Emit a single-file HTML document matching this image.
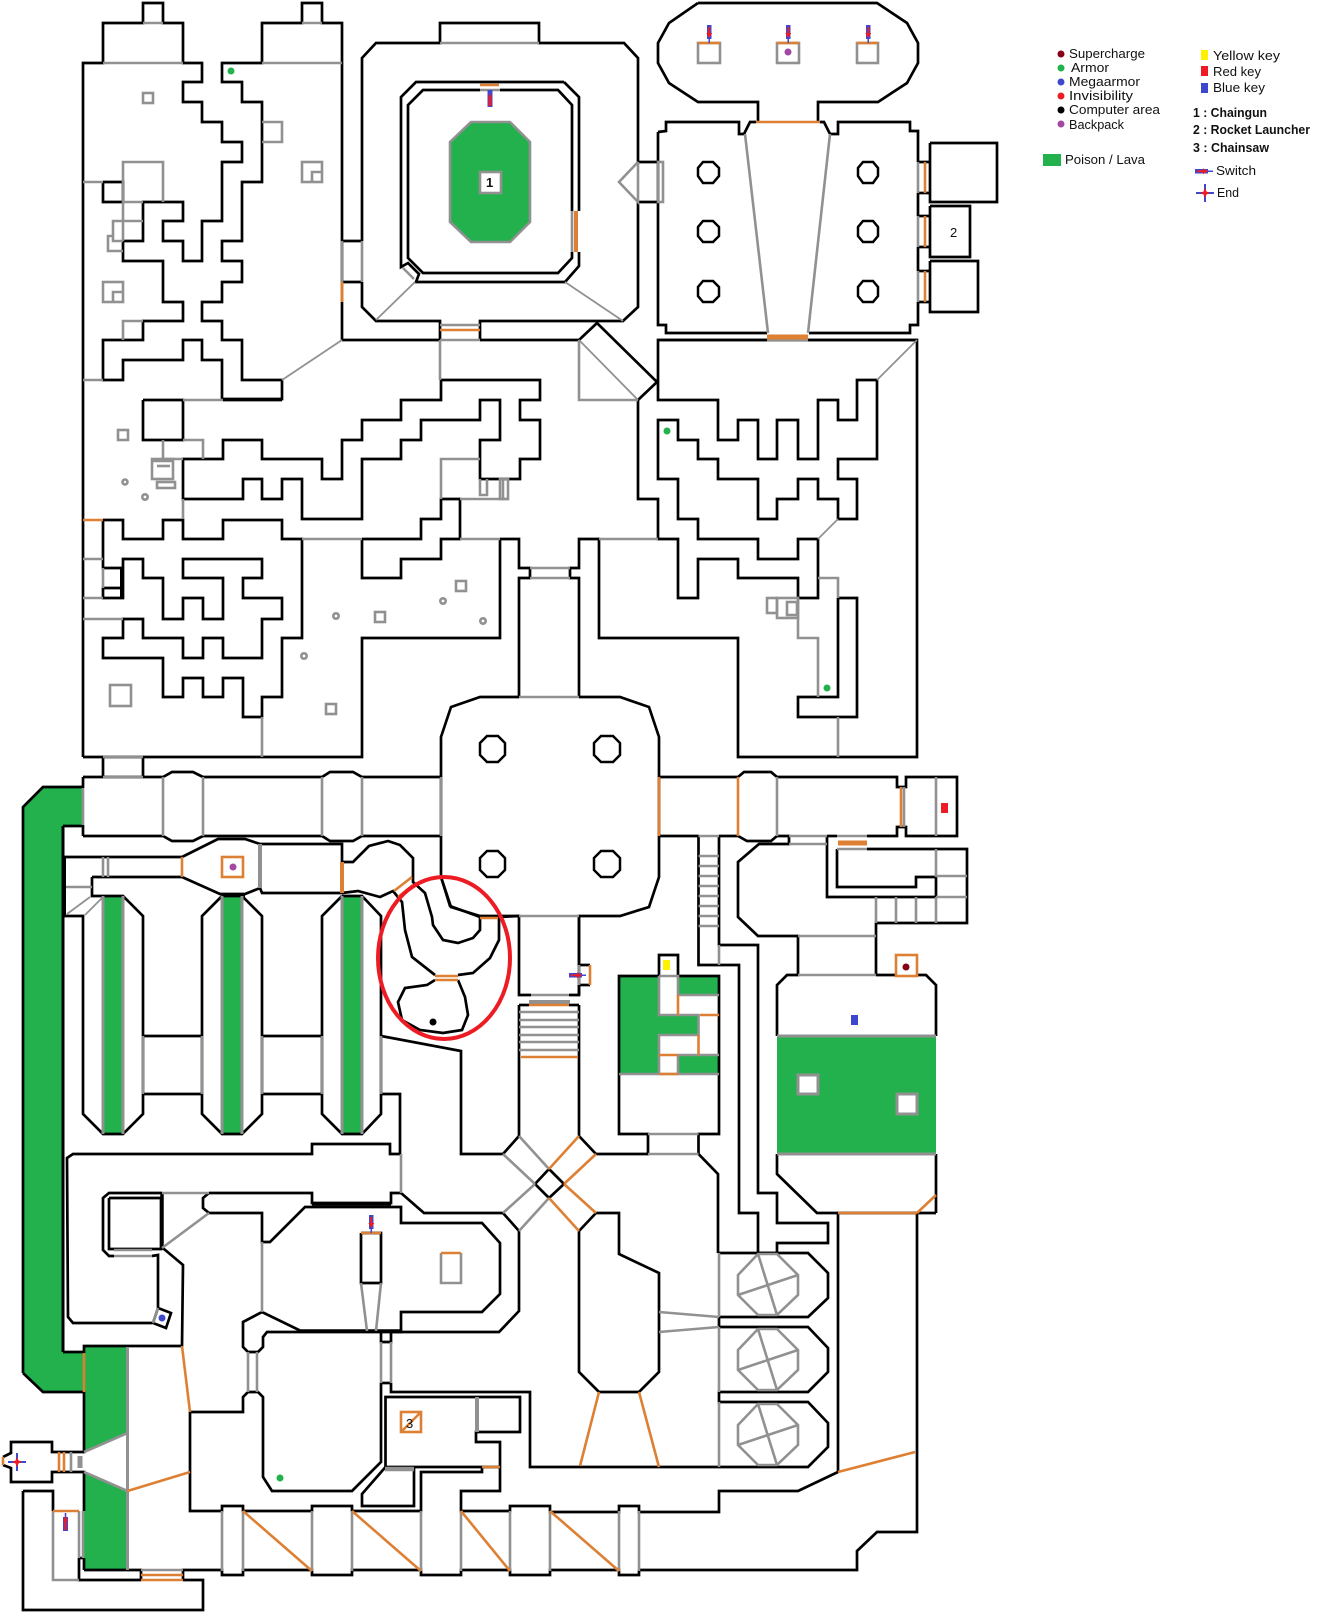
<!DOCTYPE html>
<html><head><meta charset="utf-8"><title>Map</title>
<style>
html,body{margin:0;padding:0;background:#fff}
svg{display:block}
.k{fill:none;stroke:#000;stroke-width:2.7}
.g{fill:none;stroke:#919191;stroke-width:2.6}
.o{fill:none;stroke:#dd8033;stroke-width:2.6}
.p{fill:#fff;stroke:#000;stroke-width:2.5}
text{font-family:"Liberation Sans",sans-serif;font-size:13px;fill:#111}
.b{font-weight:bold}
</style></head><body>
<svg width="1320" height="1612" viewBox="0 0 1320 1612" xmlns="http://www.w3.org/2000/svg">
<!-- green fills -->
<g fill="#22b14c" stroke="none">
<polygon points="23,807 43,787 83,787 83,826 63,826 63,1352 84,1352 84,1392 43,1392 23,1373"/>
<rect x="103" y="896" width="20" height="238"/><rect x="222" y="896" width="20" height="238"/><rect x="342" y="896" width="20" height="238"/>
<polygon points="84,1347 127.5,1347 127.5,1433 84,1452"/>
<polygon points="84,1472 127.5,1491 127.5,1570 84,1570"/>
<rect x="777" y="1036" width="159" height="118"/>
<rect x="619" y="976" width="100" height="98"/>
</g>
<polygon points="471,122 510,122 530,142 530,222 510,242 471,242 450,222 450,142" fill="#22b14c" stroke="#919191" stroke-width="2.6"/>
<g fill="#fff" stroke="none">
<rect x="659" y="976" width="19" height="39"/><rect x="678" y="995" width="41" height="20"/><rect x="698.5" y="1015" width="20.5" height="40"/><rect x="659" y="1035" width="40" height="20"/><rect x="659" y="1055" width="19" height="19"/>
</g>

<!-- black walls -->
<g class="k">
<polyline points="83,757 83,63 103,63 103,23 143,23 143,3 163,3 163,23 183,23 183,63 202,63 202,82 183,82 183,102 202,102 202,122 222,122 222,142 242,142 242,162 222,162 222,221 202,221 202,261 183,261 183,241 163,241 163,221 183,221 183,202 143,202 143,241 123,241 123,261 163,261 163,302 183,302 183,321 143,321 143,340 103,340 103,380 123,380 123,360 183,360 183,340 202,340 202,360 222,360 222,380"/>
<polyline points="222,380 222,399 282,399 282,380 242,380 242,340 222,340 222,321 202,321 202,302 222,302 222,282 242,282 242,261 222,261 222,241 242,241 242,182 262,182 262,102 242,102 242,82 222,82 222,63 262,63 262,23 302,23 302,3 322,3 322,23 342,23 342,340"/>
<polyline points="103,182 123,182 123,202 103,202 103,182"/>
<polyline points="342,241 362,241"/><polyline points="342,282 362,282"/>
<polyline points="342,340 440,340"/><polyline points="480,340 579,340"/>
<!-- big square room -->
<polyline points="362,241 362,58 376,43 440,43 440,23 539,23 539,43 624,43 638,58 638,162"/>
<polyline points="362,282 362,307 376,321 440,321 440,340"/>
<polyline points="480,340 480,321 623,321 638,307 638,202"/>
<polyline points="638,162 658,162"/><polyline points="638,202 658,202"/>
<polyline points="564,82 579,97 579,211"/><polyline points="579,252 579,266 565,282 416,282 419,274 408,263 401,267 401,97 416,82 564,82"/>
<polyline points="480,90 423,90 408,105 408,258 423,273 558,273 572,258 572,252"/><polyline points="500,90 558,90 572,105 572,211"/>
<!-- central north row -->
<polyline points="441,380 540,380 540,400 520,400 520,420 540,420 540,459 520,459 520,479 480,479 480,440 500,440 500,400 480,400 480,420 421,420 421,440 401,440 401,459 362,459 362,519 302,519 302,479 282,479 282,499 262,499 262,479 243,479 243,499 183,499 183,459 223,459 223,440 262,440 262,459 322,459 322,479 342,479 342,440 362,440 362,420 401,420 401,400 441,400 441,380"/>
<polyline points="143,400 183,400 183,440 143,440 143,400"/>
<polyline points="223,400 282,400"/>
<polyline points="103,520 123,520 123,539 163,539 163,520 183,520 183,539 223,539 223,520 282,520 282,539 302,539 302,638 282,638 282,697 262,697 262,717 243,717 243,678 223,678 223,697 203,697 203,678 183,678 183,697 163,697 163,658 103,658 103,638 123,638 123,619 143,619 143,638 183,638 183,658 203,658 203,638 223,638 223,658 262,658 262,619 282,619 282,598 243,598 243,578 262,578 262,559 183,559 183,578 223,578 223,619 203,619 203,598 183,598 183,619 163,619 163,578 143,578 143,559 123,559 123,598 103,598 103,588 122,588 122,568 103,568 103,520"/>
<line x1="122" y1="568" x2="122" y2="598" stroke-width="4"/>
<polyline points="83,757 362,757 362,638 500,638 500,539"/>
<polyline points="362,539 362,578 401,578 401,559 441,559 441,539 460,539 460,499 441,499 441,519 421,519 421,539 362,539"/>
<polyline points="500,539 519,539 519,568 530,568 530,578 519,578 519,697"/>
<polyline points="579,697 579,578 570,578 570,568 579,568 579,539 599,539 599,638 738,638 738,757 917,757 917,340 658,340 658,400 718,400 718,440 738,440 738,420 758,420 758,459 777,459 777,420 798,420 798,459 818,459 818,400 838,400 838,420 857,420 857,380 877,380 877,459 838,459 838,479 857,479 857,519 838,519 838,499 818,499 818,479 798,479 798,499 777,499 777,519 758,519 758,479 718,479 718,459 698,459 698,440 678,440 678,420 658,420 658,479 678,479 678,519 698,519 698,539 758,539 758,559 798,559 798,539 818,539 818,598 798,598 798,578 738,578 738,559 698,559 698,598 678,598 678,539 658,539 658,499 638,499 638,400 657,382 597,323 579,340"/>
<polyline points="838,598 857,598 857,717 798,717 798,697 838,697 838,598"/>
<!-- top-right temple -->
<polyline points="698,3 877,3 907,23 918,43 918,63 907,83 878,102 818,102 818,122"/>
<polyline points="758,122 758,102 698,102 669,83 658,63 658,43 669,23 698,3"/>
<polyline points="658,132 666,131 666,122 739,122 739,134 744,134 750,122 756,122"/>
<polyline points="820,122 824,122 830,134 838,134 838,122 910,122 910,131 918,131 918,162"/>
<polyline points="918,193 918,216"/><polyline points="918,247 918,271"/>
<polyline points="918,302 918,325 910,325 910,333 809,333"/>
<polyline points="767,333 666,333 666,325 658,325 658,132"/>
<polyline points="930,143 997,143 997,202 930,202 930,143"/>
<polyline points="930,206 970,206 970,257 930,257 930,206"/>
<polyline points="930,261 978,261 978,312 930,312 930,261"/>
<polyline points="918,162 930,162"/><polyline points="918,193 930,193"/><polyline points="918,216 930,216"/><polyline points="918,247 930,247"/><polyline points="918,271 930,271"/><polyline points="918,302 930,302"/>
<!-- north corridor -->
<polyline points="83,777 163,777 172,772 193,772 203,777 322,777 330,772 353,772 362,777 441,777"/>
<polyline points="83,836 163,836 172,841 193,841 203,836 322,836 330,841 353,841 362,836 441,836"/>
<line x1="83" y1="777" x2="83" y2="788"/><line x1="83" y1="825" x2="83" y2="836"/>
<polyline points="103,757 103,777"/><polyline points="143,757 143,777"/>
<!-- central room -->
<polyline points="519,697 480,697 451,707 441,737 441,877 451,907 480,916 519,916 519,995 531,995"/>
<polyline points="579,697 620,697 649,707 659,737 659,877 649,907 620,916 579,916 579,995 569,995"/>
<polyline points="519,1005 529,1005"/><polyline points="569,1005 579,1005"/>
<polyline points="519,1005 519,1136 503,1154 461,1154 461,1051 381,1036"/>
<polyline points="579,1005 579,1136 596,1154 648,1154 648,1134 619,1134 619,976 659,976 659,955 678,955 678,976 719,976 719,1134 698.5,1134 698.5,1154 718,1174 718,1253"/>
<!-- cross -->
<polyline points="549,1169 564,1184 549,1198 535,1184 549,1169"/>
<polyline points="503,1213 519,1231 519,1311 499,1332 391,1332"/>
<polyline points="596,1213 579,1231 579,1372 599,1392 639,1392 659,1372 659,1273 619,1254 619,1213 596,1213"/>
<!-- east corridor -->
<polyline points="659,777 738,777 744,772 771,772 777,777 897,777 897,787 906,787 906,777 957,777 957,836 906,836 906,827 897,827 897,836 867,836"/>
<polyline points="659,836 698.5,836"/><polyline points="719,836 738,836 747,841 771,841 777,836 789,836 789,844 759,844 738,862 738,917 758,936 798,936 798,975 787,975 777,985 777,1036"/>
<polyline points="777,1154 777,1174 817,1213 917,1213"/>
<polyline points="936,1213 917,1213 917,1532 877,1532 857,1551 857,1570 639,1570"/>
<polyline points="876,936 876,923 967,923 967,849 867,849"/><polyline points="876,936 876,975"/>
<polyline points="827,836 827,897 936,897 936,877 916,877 916,887 837,887 837,849"/><line x1="827" y1="836" x2="837" y2="836"/>
<polyline points="876,975 896,975"/><polyline points="917,975 926,975 936,985 936,1036"/><polyline points="936,1154 936,1213"/>
<polyline points="698.5,836 698.5,965 739,965 739,1213 758,1213 758,1253 777,1253 777,1243 828,1243 828,1223 777,1223 777,1193 758,1193 758,945 719,945 719,836"/>
<polyline points="579,965 590,965"/><polyline points="579,985 590,985"/><line x1="579" y1="916" x2="579" y2="965"/><line x1="579" y1="985" x2="579" y2="995"/>
<!-- SE rooms -->
<polyline points="718,1253 808,1253 828,1273 828,1298 808,1317 719,1317 719,1327 808,1327 828,1348 828,1372 808,1392 719,1392 719,1402 808,1402 828,1423 828,1447 808,1467 530,1467 530,1392 391,1392 391,1383"/>
<polyline points="838,1213 838,1472 798,1491 719,1491 719,1512 639,1512 639,1506 619,1506 619,1512 550,1512 550,1506 510,1506 510,1511 461,1511 461,1491 500,1491 500,1442 476,1442 476,1432 520,1432 520,1397 385.5,1397 385.5,1467 482,1467 482,1472 421,1472 421,1511 352,1511 352,1506 312,1506 312,1511 243,1511 243,1506 222,1506 222,1511 190,1511 190,1412 243,1412 243,1397 248,1392 258,1392 263,1397 263,1477 272,1491 352,1491 381,1462 381,1383"/>
<polyline points="385.5,1467 362,1494 362,1506 414,1506 414,1467"/>
<polyline points="84,1570 141,1570 141,1580"/><polyline points="183,1580 183,1570 222,1570 222,1575 243,1575 243,1570 312,1570 312,1575 352,1575 352,1570 421,1570 421,1575 461,1575 461,1570 510,1570 510,1575 550,1575 550,1570 619,1570 619,1575 639,1575 639,1570"/>
<!-- west maze / pools -->
<polyline points="63,826 83,826"/>
<line x1="63" y1="826" x2="63" y2="1352" stroke-width="3"/>
<line x1="64" y1="857" x2="64" y2="916" stroke-width="4"/>
<polyline points="23,1373 23,807 43,787 83,787"/>
<polyline points="23,1373 43,1392 84,1392 84,1452 52,1452 52,1442 11,1442 11,1453 3,1457"/>
<polyline points="63,1352 84,1352 84,1346 182,1346 183,1265 164,1249 162,1248"/>
<polyline points="3,1465 11,1468 11,1482 52,1482 52,1472 84,1472 84,1511"/>
<polyline points="84,1558 84,1570"/><polyline points="79,1558 84,1558"/>
<polyline points="23,1491 53,1491 53,1511"/><polyline points="23,1491 23,1610 203,1610 203,1580 183,1580"/><polyline points="141,1580 79,1580 79,1558"/>
<polyline points="63,857 182,857 218,839 245,839 260,844 342,844 342,862 353,862 369,846 388,841 400,845 413,858 413,882 425,893 432,917 433,925 443,940 458,943 473,938 480,930 480,917 450,906 441,877"/>
<polyline points="92,877 182,877 220,894 245,894 260,888 262,893 342,893 358,891 380,897 393,891 402,902 405,930 412,957 435,975"/>
<polyline points="92,877 92,896 103,896"/>
<polyline points="63,916 83,916 83,1114 103,1134 123,1134 143,1114 143,916 123,896 103,896"/>
<polyline points="222,896 202,916 202,1114 222,1134 242,1134 262,1114 262,916 242,896 222,896"/>
<polyline points="342,896 322,916 322,1114 342,1134 362,1134 381,1114 381,916 362,896 342,896"/>
<line x1="222" y1="895" x2="245" y2="895" stroke-width="4"/>
<polyline points="143,1036 202,1036"/><polyline points="143,1094 202,1094"/><polyline points="262,1036 322,1036"/><polyline points="262,1094 322,1094"/>
<polyline points="381,1094 400,1094 400,1154 390,1154 390,1144 312,1144 312,1154 73,1154 67,1158 68,1317 73,1323 152,1323"/>
<polyline points="458,975 473,973 490,958 499,940 499,917 519,916"/>
<polyline points="435,980 427,985 405,988 398,1002 402,1020 420,1030 443,1033 462,1030 468,1015 465,997 458,980"/>
<!-- SW hall -->
<polyline points="162,1193 109,1193 103,1198 103,1250 109,1256 114,1256"/>
<polyline points="109,1198 161,1198 161,1249 109,1249 109,1198"/>
<line x1="162" y1="1193" x2="162" y2="1249" stroke-width="3.5"/>
<polyline points="152,1256 158,1255 158,1308 171,1313 166,1328 153,1323 158,1308"/>
<polyline points="209,1193 312,1193 312,1203 391,1203 391,1193 401,1193 424,1213 503,1213"/>
<line x1="312" y1="1204" x2="391" y2="1204" stroke-width="3.5"/>
<polyline points="209,1193 203,1198 203,1208 209,1213 262,1213 262,1242 270,1242 305,1207 401,1207 401,1223 482,1223 500,1243 500,1294 482,1312 401,1312 401,1332 301,1331 262,1312 243,1322 243,1347 248,1352 258,1352 263,1347 263,1337 267,1332 391,1332"/>
<line x1="301" y1="1331" x2="401" y2="1331" stroke-width="3.5"/>
<polyline points="381,1332 381,1342 391,1342 391,1332"/>
<polyline points="391,1383 381,1383"/>
<polyline points="361,1233 381,1233 381,1283 361,1283 361,1233"/>
<polyline points="482,1467 500,1467"/>
</g>
<!-- pillars -->
<g class="p">
<polygon points="703,162 713,162 719,168 719,176 713,183 703,183 698,176 698,168"/>
<polygon points="703,221 713,221 719,227 719,236 713,242 703,242 698,236 698,227"/>
<polygon points="703,281 713,281 719,287 719,296 713,302 703,302 698,296 698,287"/>
<polygon points="863,162 873,162 878,168 878,176 873,183 863,183 858,176 858,168"/>
<polygon points="863,221 873,221 878,227 878,236 873,242 863,242 858,236 858,227"/>
<polygon points="863,281 873,281 878,287 878,296 873,302 863,302 858,296 858,287"/>
<polygon points="487,736 498,736 505,743 505,755 498,762 487,762 480,755 480,743"/>
<polygon points="601,736 613,736 620,743 620,755 613,762 601,762 594,755 594,743"/>
<polygon points="487,851 498,851 505,858 505,870 498,877 487,877 480,870 480,858"/>
<polygon points="601,851 613,851 620,858 620,870 613,877 601,877 594,870 594,858"/>
</g>

<!-- gray -->
<g class="g">
<line x1="103" y1="63" x2="183" y2="63"/><line x1="143" y1="23" x2="163" y2="23"/><line x1="262" y1="63" x2="342" y2="63"/><line x1="302" y1="23" x2="322" y2="23"/>
<rect x="143" y="93" width="10" height="10"/>
<polyline points="262,122 282,122 282,142 262,142"/>
<rect x="302" y="162" width="20" height="20"/><polyline points="312,182 312,172 322,172"/>
<rect x="103" y="282" width="20" height="20"/><polyline points="113,302 113,292 123,292"/>
<polyline points="123,340 123,321 143,321"/>
<line x1="83" y1="182" x2="103" y2="182"/>
<polyline points="123,241 123,162 163,162 163,202"/><line x1="123" y1="202" x2="143" y2="202"/>
<polyline points="143,221 113,221 113,241 123,241"/><polyline points="113,236 108,236 108,251 123,251"/>
<line x1="83" y1="380" x2="103" y2="380"/>
<line x1="282" y1="380" x2="342" y2="340" stroke-width="1.8"/>
<line x1="342" y1="241" x2="342" y2="282"/><line x1="362" y1="241" x2="362" y2="282"/>
<line x1="440" y1="43" x2="539" y2="43"/>
<line x1="440" y1="325" x2="480" y2="325"/><line x1="440" y1="340" x2="480" y2="340"/>
<polyline points="440,340 440,380"/>
<line x1="480" y1="90" x2="500" y2="90"/>
<line x1="572" y1="211" x2="572" y2="252"/>
<line x1="415" y1="282" x2="376" y2="320" stroke-width="1.8"/><line x1="565" y1="282" x2="623" y2="321" stroke-width="1.8"/>
<line x1="403" y1="268" x2="414" y2="279"/>
<polyline points="638,162 619,182 638,202 638,162"/>
<rect x="658" y="162" width="5" height="40"/>
<polyline points="579,340 579,400 638,400"/><line x1="579" y1="340" x2="638" y2="400" stroke-width="1.8"/>
<line x1="745" y1="134" x2="768" y2="333"/><line x1="830" y1="134" x2="808" y2="333"/>
<line x1="767" y1="340" x2="808" y2="340"/>
<line x1="658" y1="340" x2="767" y2="340" stroke="#000"/><line x1="808" y1="340" x2="917" y2="340" stroke="#000"/>
<rect x="698" y="43" width="22" height="20"/><rect x="777" y="43" width="22" height="20"/><rect x="857" y="43" width="21" height="20"/>
<line x1="918" y1="162" x2="918" y2="193"/><line x1="918" y1="216" x2="918" y2="247"/><line x1="918" y1="271" x2="918" y2="302"/>
<line x1="877" y1="380" x2="917" y2="340" stroke-width="1.8"/><line x1="818" y1="539" x2="838" y2="519" stroke-width="1.8"/>
<polyline points="818,578 838,578 838,598"/>
<polyline points="798,598 798,638 818,638 818,697"/>
<line x1="838" y1="717" x2="838" y2="757"/>
<rect x="767" y="598" width="10" height="15"/><rect x="777" y="598" width="21" height="20"/><rect x="787" y="602" width="10" height="13"/>
<line x1="183" y1="400" x2="223" y2="400"/>
<polyline points="183,440 203,440 203,459"/><polyline points="163,440 163,459 183,459"/>
<rect x="152" y="459" width="21" height="20"/><line x1="152" y1="461" x2="173" y2="461"/><line x1="157" y1="466" x2="170" y2="466"/><rect x="157" y="482" width="18" height="6"/>
<rect x="118" y="430" width="10" height="10"/>
<circle cx="125" cy="482" r="2.5"/><circle cx="145" cy="497" r="2.7"/>
<line x1="183" y1="499" x2="183" y2="519"/>
<line x1="83" y1="559" x2="103" y2="559"/><line x1="103" y1="568" x2="103" y2="588"/><line x1="83" y1="598" x2="103" y2="598"/><line x1="83" y1="619" x2="123" y2="619"/>
<line x1="262" y1="717" x2="262" y2="757"/>
<rect x="110" y="685" width="21" height="21"/>
<line x1="302" y1="539" x2="362" y2="539"/>
<line x1="460" y1="539" x2="500" y2="539"/>
<polyline points="441,499 441,459 480,459"/><line x1="460" y1="499" x2="508" y2="499"/>
<polyline points="480,479 480,495 487,495 487,479"/>
<rect x="500" y="479" width="8" height="20"/><line x1="503" y1="479" x2="503" y2="499"/>
<rect x="375" y="612" width="10" height="10"/><rect x="456" y="581" width="10" height="10"/><rect x="326" y="704" width="10" height="10"/>
<circle cx="336" cy="616" r="2.7"/><circle cx="304" cy="656" r="2.7"/><circle cx="443" cy="601" r="2.7"/><circle cx="483" cy="621" r="2.7"/>
<line x1="530" y1="568" x2="570" y2="568"/><line x1="530" y1="578" x2="570" y2="578"/>
<line x1="519" y1="697" x2="579" y2="697"/>
<line x1="599" y1="539" x2="658" y2="539"/>
<line x1="103" y1="757" x2="143" y2="757"/><line x1="103" y1="777" x2="143" y2="777"/>
<line x1="83" y1="788" x2="83" y2="825"/>
<line x1="163" y1="777" x2="163" y2="836"/><line x1="203" y1="777" x2="203" y2="836"/><line x1="322" y1="777" x2="322" y2="836"/><line x1="362" y1="777" x2="362" y2="836"/><line x1="441" y1="777" x2="441" y2="836"/>
<line x1="103" y1="857" x2="103" y2="877"/><line x1="108" y1="857" x2="108" y2="877"/>
<line x1="66" y1="887" x2="92" y2="887"/>
<line x1="67" y1="914" x2="90" y2="897" stroke-width="1.8"/><line x1="85" y1="915" x2="103" y2="897" stroke-width="1.8"/>
<line x1="103" y1="896" x2="103" y2="1134" stroke-width="3"/><line x1="123" y1="896" x2="123" y2="1134" stroke-width="3"/>
<line x1="222" y1="896" x2="222" y2="1134" stroke-width="3"/><line x1="242" y1="896" x2="242" y2="1134" stroke-width="3"/>
<line x1="342" y1="896" x2="342" y2="1134" stroke-width="3"/><line x1="362" y1="896" x2="362" y2="1134" stroke-width="3"/>
<line x1="143" y1="1036" x2="143" y2="1094"/><line x1="202" y1="1036" x2="202" y2="1094"/><line x1="262" y1="1036" x2="262" y2="1094"/><line x1="322" y1="1036" x2="322" y2="1094"/><line x1="381" y1="1036" x2="381" y2="1094"/>
<line x1="260" y1="844" x2="260" y2="888" stroke-width="4"/>
<line x1="519" y1="916" x2="579" y2="916"/>
<line x1="531" y1="995" x2="569" y2="995"/>
<line x1="529" y1="1002" x2="570" y2="1002" stroke-width="4"/>
<line x1="519" y1="1012" x2="579" y2="1012"/><line x1="519" y1="1020" x2="579" y2="1020"/><line x1="519" y1="1027" x2="579" y2="1027"/><line x1="519" y1="1035" x2="579" y2="1035"/><line x1="519" y1="1042" x2="579" y2="1042"/><line x1="519" y1="1050" x2="579" y2="1050"/>
<line x1="579" y1="965" x2="579" y2="985"/>
<line x1="401" y1="1154" x2="401" y2="1193"/>
<line x1="519" y1="1136" x2="549" y2="1169"/><line x1="503" y1="1154" x2="535" y2="1184"/><line x1="503" y1="1213" x2="535" y2="1184"/><line x1="519" y1="1231" x2="549" y2="1198"/>
<line x1="648" y1="1134" x2="698.5" y2="1134"/><line x1="648" y1="1154" x2="698.5" y2="1154"/>
<line x1="698.5" y1="856" x2="719" y2="856"/><line x1="698.5" y1="866" x2="719" y2="866"/><line x1="698.5" y1="876" x2="719" y2="876"/><line x1="698.5" y1="886" x2="719" y2="886"/><line x1="698.5" y1="896" x2="719" y2="896"/><line x1="698.5" y1="906" x2="719" y2="906"/><line x1="698.5" y1="916" x2="719" y2="916"/><line x1="698.5" y1="926" x2="719" y2="926"/>
<line x1="698.5" y1="836" x2="719" y2="836"/><line x1="719" y1="945" x2="719" y2="965"/>
<line x1="777" y1="777" x2="777" y2="836"/><line x1="904" y1="787" x2="904" y2="827"/><line x1="936" y1="777" x2="936" y2="836"/>
<line x1="789" y1="836" x2="827" y2="836"/><line x1="789" y1="844" x2="827" y2="844"/>
<line x1="837" y1="836" x2="867" y2="836"/><line x1="837" y1="849" x2="867" y2="849"/>
<line x1="936" y1="849" x2="936" y2="877"/><line x1="936" y1="876" x2="967" y2="876"/><line x1="936" y1="897" x2="967" y2="897"/>
<line x1="876" y1="897" x2="876" y2="923"/><line x1="896" y1="897" x2="896" y2="923"/><line x1="916" y1="897" x2="916" y2="923"/><line x1="936" y1="897" x2="936" y2="923"/>
<line x1="798" y1="936" x2="876" y2="936"/><line x1="798" y1="975" x2="876" y2="975"/>
<line x1="777" y1="1036" x2="936" y2="1036" stroke-width="3"/><line x1="777" y1="1154" x2="936" y2="1154" stroke-width="3"/>
<rect x="798" y="1075" width="20" height="19" fill="#fff" stroke-width="3"/><rect x="897" y="1094" width="20" height="20" fill="#fff" stroke-width="3"/>
<!-- yellow room -->
<polyline points="659,976 659,1015 698.5,1015 698.5,1035 659,1035 659,1074"/>
<polyline points="659,976 678,976 678,995 719,995"/><line x1="678" y1="1055" x2="719" y2="1055"/><line x1="678" y1="1055" x2="678" y2="1074"/>
<line x1="619" y1="1074" x2="719" y2="1074"/>
<!-- SE gray -->
<line x1="719" y1="1253" x2="719" y2="1317"/><line x1="719" y1="1327" x2="719" y2="1392"/><line x1="719" y1="1402" x2="719" y2="1467"/>
<line x1="659" y1="1312" x2="719" y2="1317"/><line x1="659" y1="1332" x2="719" y2="1327"/>
<polygon points="758,1254 777,1254 798,1275 798,1295 777,1315 758,1315 738,1295 738,1275"/><line x1="758" y1="1254" x2="777" y2="1315"/><line x1="738" y1="1295" x2="798" y2="1275"/>
<polygon points="758,1329 777,1329 798,1350 798,1370 777,1390 758,1390 738,1370 738,1350"/><line x1="758" y1="1329" x2="777" y2="1390"/><line x1="738" y1="1370" x2="798" y2="1350"/>
<polygon points="758,1404 777,1404 798,1425 798,1445 777,1465 758,1465 738,1445 738,1425"/><line x1="758" y1="1404" x2="777" y2="1465"/><line x1="738" y1="1445" x2="798" y2="1425"/>
<!-- SW gray -->
<line x1="162" y1="1193" x2="209" y2="1193"/><line x1="162" y1="1248" x2="209" y2="1213"/>
<line x1="114" y1="1250" x2="152" y2="1250"/><line x1="114" y1="1256" x2="152" y2="1256"/>
<line x1="158" y1="1308" x2="153" y2="1323"/>
<line x1="262" y1="1242" x2="262" y2="1312"/>
<line x1="361" y1="1283" x2="367" y2="1331"/><line x1="381" y1="1283" x2="376" y2="1331"/>
<polyline points="441,1253 441,1283 461,1283 461,1253"/>
<line x1="248" y1="1352" x2="248" y2="1392"/><line x1="257" y1="1352" x2="257" y2="1392"/>
<line x1="381" y1="1342" x2="381" y2="1383"/><line x1="391" y1="1342" x2="391" y2="1383"/>
<line x1="477" y1="1397" x2="477" y2="1432" stroke-width="4"/>
<line x1="385" y1="1469" x2="414" y2="1469" stroke-width="4.5"/>
<line x1="127.5" y1="1347" x2="127.5" y2="1570" stroke-width="3"/>
<line x1="127.5" y1="1433" x2="84" y2="1452"/><line x1="127.5" y1="1491" x2="84" y2="1472"/>
<line x1="71" y1="1452" x2="71" y2="1472"/><line x1="80" y1="1456" x2="80" y2="1468" stroke-width="5"/>
<polyline points="53,1511 53,1580 79,1580"/><line x1="79" y1="1511" x2="79" y2="1558"/><line x1="83" y1="1511" x2="83" y2="1558"/>
<line x1="141" y1="1570" x2="183" y2="1570"/>
<line x1="222" y1="1511" x2="222" y2="1571"/><line x1="243" y1="1511" x2="243" y2="1571"/><line x1="312" y1="1511" x2="312" y2="1571"/><line x1="352" y1="1511" x2="352" y2="1571"/><line x1="421" y1="1511" x2="421" y2="1571"/><line x1="461" y1="1511" x2="461" y2="1571"/><line x1="510" y1="1511" x2="510" y2="1571"/><line x1="550" y1="1511" x2="550" y2="1571"/><line x1="619" y1="1511" x2="619" y2="1571"/><line x1="639" y1="1511" x2="639" y2="1571"/>
</g>
<rect x="480" y="172" width="21" height="21" fill="#fff" stroke="#919191" stroke-width="2.6"/>

<!-- orange -->
<g class="o">
<line x1="342" y1="282" x2="342" y2="302" stroke-width="3"/>
<line x1="83" y1="520" x2="103" y2="520"/>
<line x1="480" y1="85" x2="499" y2="85"/>
<line x1="576" y1="211" x2="576" y2="252" stroke-width="4"/>
<line x1="440" y1="330" x2="480" y2="330"/>
<line x1="756" y1="122" x2="820" y2="122"/>
<line x1="767" y1="337" x2="808" y2="337" stroke-width="5"/>
<line x1="698" y1="43" x2="720" y2="43"/><line x1="777" y1="43" x2="799" y2="43"/><line x1="857" y1="43" x2="878" y2="43"/>
<line x1="925" y1="162" x2="925" y2="193"/><line x1="925" y1="216" x2="925" y2="247"/><line x1="925" y1="271" x2="925" y2="302"/>
<line x1="182" y1="857" x2="182" y2="877"/>
<rect x="222" y="857" width="21" height="20"/>
<line x1="342" y1="862" x2="342" y2="893" stroke-width="4"/>
<line x1="394" y1="891" x2="412" y2="877"/><line x1="398" y1="897" x2="413" y2="885"/>
<line x1="480" y1="918" x2="498" y2="918"/>
<line x1="435" y1="976" x2="458" y2="976"/><line x1="435" y1="980" x2="458" y2="980"/>
<line x1="659" y1="777" x2="659" y2="836"/><line x1="738" y1="777" x2="738" y2="836"/>
<line x1="901" y1="787" x2="901" y2="827"/>
<line x1="838" y1="843" x2="867" y2="843" stroke-width="5"/>
<rect x="896" y="955" width="21" height="21"/>
<line x1="529" y1="1005" x2="569" y2="1005"/><line x1="521" y1="1057" x2="578" y2="1057"/>
<polyline points="590,965 590,985"/>
<line x1="678" y1="995" x2="678" y2="1015"/><line x1="700" y1="1015" x2="719" y2="1015"/><line x1="698.5" y1="1035" x2="698.5" y2="1055"/><line x1="659" y1="1055" x2="678" y2="1055"/><line x1="659" y1="1074" x2="678" y2="1074"/>
<line x1="549" y1="1169" x2="579" y2="1136"/><line x1="564" y1="1184" x2="596" y2="1154"/><line x1="564" y1="1184" x2="596" y2="1213"/><line x1="549" y1="1198" x2="579" y2="1231"/>
<line x1="838" y1="1213" x2="917" y2="1213"/><line x1="917" y1="1213" x2="936" y2="1195"/>
<line x1="838" y1="1472" x2="915" y2="1452"/>
<line x1="599" y1="1392" x2="580" y2="1466"/><line x1="639" y1="1392" x2="659" y2="1467"/>
<line x1="361" y1="1233" x2="381" y2="1233"/>
<line x1="441" y1="1253" x2="461" y2="1253"/>
<rect x="401" y="1412" width="20" height="20"/><line x1="421" y1="1412" x2="401" y2="1432"/>
<line x1="482" y1="1467" x2="500" y2="1467"/>
<line x1="182" y1="1346" x2="190" y2="1412"/><line x1="127.5" y1="1491" x2="190" y2="1472"/>
<line x1="84" y1="1353" x2="84" y2="1392"/>
<line x1="3" y1="1457" x2="3" y2="1465"/><line x1="59" y1="1452" x2="59" y2="1472"/><line x1="64" y1="1452" x2="64" y2="1472"/>
<line x1="53" y1="1511" x2="79" y2="1511"/>
<line x1="141" y1="1575" x2="183" y2="1575"/><line x1="141" y1="1580" x2="183" y2="1580"/>
<line x1="243" y1="1511" x2="312" y2="1571"/><line x1="352" y1="1511" x2="421" y2="1571"/><line x1="461" y1="1511" x2="510" y2="1571"/><line x1="550" y1="1511" x2="619" y2="1571"/>
</g>

<!-- red ellipse -->
<ellipse cx="444" cy="958" rx="66" ry="81" fill="none" stroke="#ed1c24" stroke-width="4"/>

<!-- items -->
<g fill="#22b14c"><circle cx="231" cy="71" r="3.5"/><circle cx="667" cy="431" r="3.5"/><circle cx="827" cy="688" r="3.5"/><circle cx="280" cy="1478" r="3.5"/></g>
<circle cx="788" cy="52" r="3.5" fill="#a349a4"/><circle cx="233" cy="867" r="3.5" fill="#a349a4"/>
<circle cx="906" cy="967" r="3.5" fill="#880015"/><circle cx="162" cy="1318" r="3.5" fill="#3f48cc"/><circle cx="433" cy="1022" r="3.5" fill="#000"/>
<rect x="663" y="960" width="7" height="10" fill="#fff200"/><rect x="941" y="803" width="7" height="10" fill="#ed1c24"/><rect x="851" y="1015" width="7" height="10" fill="#3f48cc"/>

<!-- switch arrows -->
<g>
<rect x="487.5" y="90" width="5" height="17" fill="#3f48cc"/><path d="M490 93l1.6 4v9h-3.2v-9z" fill="#ed1c24"/>
<rect x="707" y="25" width="4.5" height="14" fill="#3f48cc"/><rect x="708.5" y="39" width="1.5" height="4" fill="#3f48cc"/><path d="M708.3 27h2v6h2l-3 5-3-5h2z" fill="#ed1c24"/>
<rect x="786" y="25" width="4.5" height="14" fill="#3f48cc"/><rect x="787.5" y="39" width="1.5" height="4" fill="#3f48cc"/><path d="M787.3 27h2v6h2l-3 5-3-5h2z" fill="#ed1c24"/>
<rect x="866" y="25" width="4.5" height="14" fill="#3f48cc"/><rect x="867.5" y="39" width="1.5" height="4" fill="#3f48cc"/><path d="M867.3 27h2v6h2l-3 5-3-5h2z" fill="#ed1c24"/>
<rect x="369" y="1215" width="4.5" height="14" fill="#3f48cc"/><rect x="370.5" y="1229" width="1.5" height="4" fill="#3f48cc"/><path d="M370.3 1217h2v6h2l-3 5-3-5h2z" fill="#ed1c24"/>
<rect x="63" y="1517" width="5" height="14" fill="#3f48cc"/><rect x="64.7" y="1513" width="1.6" height="4" fill="#3f48cc"/><path d="M65.5 1516l2.6 5h-1.4v9h-2.4v-9h-1.4z" fill="#ed1c24"/>
<rect x="569" y="973" width="13" height="4.5" fill="#3f48cc"/><rect x="582" y="974.5" width="4" height="1.5" fill="#3f48cc"/><path d="M571 974.3h6v-2l5 3-5 3v-2h-6z" fill="#ed1c24"/>
<rect x="1195" y="169" width="13" height="4.5" fill="#3f48cc"/><rect x="1208" y="170.5" width="5" height="1.5" fill="#3f48cc"/><path d="M1197 170.3h6v-2l5 3-5 3v-2h-6z" fill="#ed1c24"/>
<rect x="16" y="1453" width="2" height="18" fill="#3f48cc"/><rect x="8" y="1461" width="18" height="2" fill="#3f48cc"/><path d="M17 1457l1.5 3.5 3.5 1.5-3.5 1.5-1.5 3.5-1.5-3.5-3.5-1.5 3.5-1.5z" fill="#ed1c24"/>
<rect x="1204" y="184" width="2" height="18" fill="#3f48cc"/><rect x="1196" y="192" width="18" height="2" fill="#3f48cc"/><path d="M1205 188l1.5 3.5 3.5 1.5-3.5 1.5-1.5 3.5-1.5-3.5-3.5-1.5 3.5-1.5z" fill="#ed1c24"/>
</g>

<!-- map numbers -->
<text x="486" y="187" class="b" style="font-size:13px">1</text>
<text x="950" y="237" style="font-size:13px">2</text>
<text x="406" y="1428" style="font-size:13px">3</text>

<!-- legend -->
<circle cx="1061" cy="54" r="3.5" fill="#880015"/><circle cx="1061" cy="68" r="3.5" fill="#22b14c"/><circle cx="1061" cy="82" r="3.5" fill="#3f48cc"/><circle cx="1061" cy="96" r="3.5" fill="#ed1c24"/><circle cx="1061" cy="110" r="3.5" fill="#000"/><circle cx="1061" cy="124" r="3.5" fill="#a349a4"/>
<text x="1069" y="58" textLength="76" lengthAdjust="spacingAndGlyphs">Supercharge</text>
<text x="1071" y="72" textLength="38" lengthAdjust="spacingAndGlyphs">Armor</text>
<text x="1069" y="86" textLength="71" lengthAdjust="spacingAndGlyphs">Megaarmor</text>
<text x="1069" y="100" textLength="64" lengthAdjust="spacingAndGlyphs">Invisibility</text>
<text x="1069" y="114" textLength="91" lengthAdjust="spacingAndGlyphs">Computer area</text>
<text x="1069" y="129" textLength="55" lengthAdjust="spacingAndGlyphs">Backpack</text>
<rect x="1043" y="154" width="18" height="12" fill="#22b14c"/>
<text x="1065" y="164" textLength="80" lengthAdjust="spacingAndGlyphs">Poison / Lava</text>
<rect x="1201" y="50" width="7" height="10" fill="#fff200"/><rect x="1201" y="66" width="7" height="10" fill="#ed1c24"/><rect x="1201" y="83" width="7" height="10" fill="#3f48cc"/>
<text x="1213" y="60" textLength="67" lengthAdjust="spacingAndGlyphs">Yellow key</text>
<text x="1213" y="76" textLength="48" lengthAdjust="spacingAndGlyphs">Red key</text>
<text x="1213" y="92" textLength="52" lengthAdjust="spacingAndGlyphs">Blue key</text>
<text x="1193" y="117" class="b" textLength="74" lengthAdjust="spacingAndGlyphs">1 : Chaingun</text>
<text x="1193" y="134" class="b" textLength="117" lengthAdjust="spacingAndGlyphs">2 : Rocket Launcher</text>
<text x="1193" y="152" class="b" textLength="76" lengthAdjust="spacingAndGlyphs">3 : Chainsaw</text>
<text x="1216" y="175" textLength="40" lengthAdjust="spacingAndGlyphs">Switch</text>
<text x="1217" y="197" textLength="22" lengthAdjust="spacingAndGlyphs">End</text>
</svg>
</body></html>
